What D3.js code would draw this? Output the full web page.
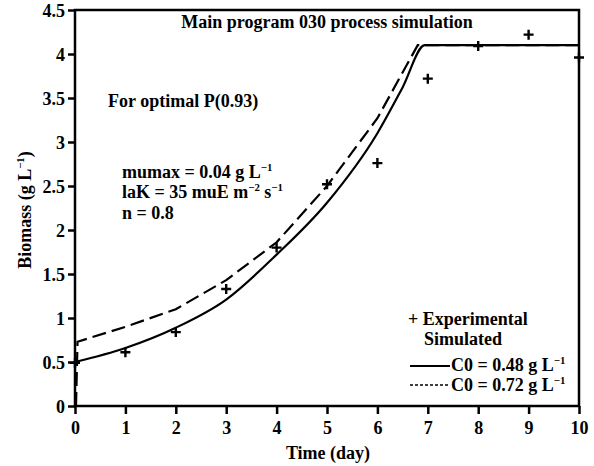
<!DOCTYPE html>
<html>
<head>
<meta charset="utf-8">
<script src="https://cdn.jsdelivr.net/npm/d3@7"></script>
<style>
  body { margin: 0; background: #fff; }
  svg text { font-family: "Liberation Serif", "DejaVu Serif", serif; font-weight: bold; }
</style>
</head>
<body>
<div id="chart"></div>
<script>
// Experimental data points
var expDays = [0, 1, 2, 3, 4, 5, 6, 7, 8, 9, 10];
var expBiomass = [0.49, 0.61, 0.84, 1.33, 1.80, 2.52, 2.76, 3.72, 4.09, 4.22, 3.96];

// Simulated, C0 = 0.48
var simDaysA = [0, 1, 2, 3, 4, 5, 6, 6.5, 6.94, 10];
var simBiomassA = [0.50, 0.66, 0.89, 1.21, 1.72, 2.31, 3.10, 3.62, 4.10, 4.10];

// Simulated, C0 = 0.72
var simDaysB = [0.02, 0.05, 1, 2, 3, 4, 5, 6, 6.5, 6.8, 10];
var simBiomassB = [0, 0.73, 0.90, 1.10, 1.43, 1.86, 2.50, 3.27, 3.79, 4.10, 4.10];

var xTicks = [0, 1, 2, 3, 4, 5, 6, 7, 8, 9, 10];
var yTicks = [0, 0.5, 1, 1.5, 2, 2.5, 3, 3.5, 4, 4.5];

var width = 594, height = 466;
var margin = { top: 10, right: 15, bottom: 60, left: 75 };

var x = d3.scaleLinear().domain([0, 10]).range([margin.left, width - margin.right]);
var y = d3.scaleLinear().domain([0, 4.5]).range([height - margin.bottom, margin.top]);

var svg = d3.select("#chart").append("svg")
    .attr("width", width)
    .attr("height", height);

// Axes
var xAxis = svg.append("g")
    .attr("transform", `translate(0, ${y(0)})`)
    .call(d3.axisBottom(x).tickValues(xTicks).tickSize(8).tickSizeOuter(0).tickFormat(d => String(d)));
var yAxis = svg.append("g")
    .attr("transform", `translate(${x(0)}, 0)`)
    .call(d3.axisLeft(y).tickValues(yTicks).tickSize(7).tickSizeOuter(0).tickFormat(d => String(d)));

[xAxis, yAxis].forEach(function (a) {
    a.select(".domain").remove();
    a.attr("font-family", null).attr("font-size", null);
    a.selectAll("line").attr("stroke", "#000").attr("stroke-width", 2.5);
    a.selectAll("text").attr("fill", "#000").style("font-size", "18px");
});
xAxis.selectAll("text").attr("y", 15).attr("dy", "0.71em");
yAxis.selectAll("text").attr("x", -10).attr("dy", "0.35em");

// Frame
svg.append("rect")
    .attr("x", x(0)).attr("y", y(4.5))
    .attr("width", x(10) - x(0)).attr("height", y(0) - y(4.5))
    .attr("fill", "none").attr("stroke", "#000").attr("stroke-width", 2.5);

// Simulated lines
var lineA = d3.line().x((d, i) => x(simDaysA[i])).y(d => y(d)).curve(d3.curveMonotoneX);
var lineB = d3.line().x((d, i) => x(simDaysB[i])).y(d => y(d)).curve(d3.curveLinear);

svg.append("path").datum(simBiomassA)
    .attr("d", lineA)
    .attr("fill", "none").attr("stroke", "#000").attr("stroke-width", 2.2);

svg.append("path").datum(simBiomassB)
    .attr("d", lineB)
    .attr("fill", "none").attr("stroke", "#000").attr("stroke-width", 2.2)
    .attr("stroke-dasharray", "14,6");

// Experimental markers
var plusSize = 5;
svg.append("g").selectAll("path").data(expBiomass).join("path")
    .attr("d", (d, i) => {
        var px = x(expDays[i]), py = y(d);
        return `M${px - plusSize},${py}H${px + plusSize}M${px},${py - plusSize}V${py + plusSize}`;
    })
    .attr("stroke", "#000").attr("stroke-width", 2.4);

// Helper to add text with superscripts: parts = [[text, isSup], ...]
function richText(px, py, parts, size, anchor) {
    var t = svg.append("text")
        .attr("x", px).attr("y", py)
        .attr("fill", "#000")
        .style("font-size", size + "px")
        .attr("text-anchor", anchor || "start");
    parts.forEach(function (p) {
        var s = t.append("tspan").text(p[0]);
        if (p[1]) s.attr("dy", -size * 0.4).style("font-size", (size * 0.6) + "px");
        else if (p[2]) s.attr("dy", size * 0.4);
    });
    return t;
}

// Title and annotations
richText(327, 28, [["Main program 030 process simulation", false]], 18, "middle");
richText(108, 107, [["For optimal P(0.93)", false]], 18);
richText(122, 178, [["mumax = 0.04 g L", false], ["\u22121", true]], 18);
richText(122, 198, [["laK = 35 muE m", false], ["\u22122", true], [" s", false, true], ["\u22121", true]], 18);
richText(122, 219, [["n = 0.8", false]], 18);

// Legend
richText(408, 325, [["+ Experimental", false]], 18);
richText(424, 345, [["Simulated", false]], 18);
svg.append("line").attr("x1", 410).attr("x2", 450).attr("y1", 366).attr("y2", 366)
    .attr("stroke", "#000").attr("stroke-width", 2);
richText(451, 371, [["C0 = 0.48 g L", false], ["\u22121", true]], 18);
svg.append("line").attr("x1", 410).attr("x2", 450).attr("y1", 385).attr("y2", 385)
    .attr("stroke", "#000").attr("stroke-width", 1.5).attr("stroke-dasharray", "3,2");
richText(451, 391, [["C0 = 0.72 g L", false], ["\u22121", true]], 18);

// Axis labels
richText(328, 459, [["Time (day)", false]], 18, "middle");
richText(0, 0, [["Biomass (g L", false], ["\u22121", true], [")", false, true]], 18, "middle")
    .attr("transform", "translate(31, 210) rotate(-90)");
</script>
</body>
</html>
